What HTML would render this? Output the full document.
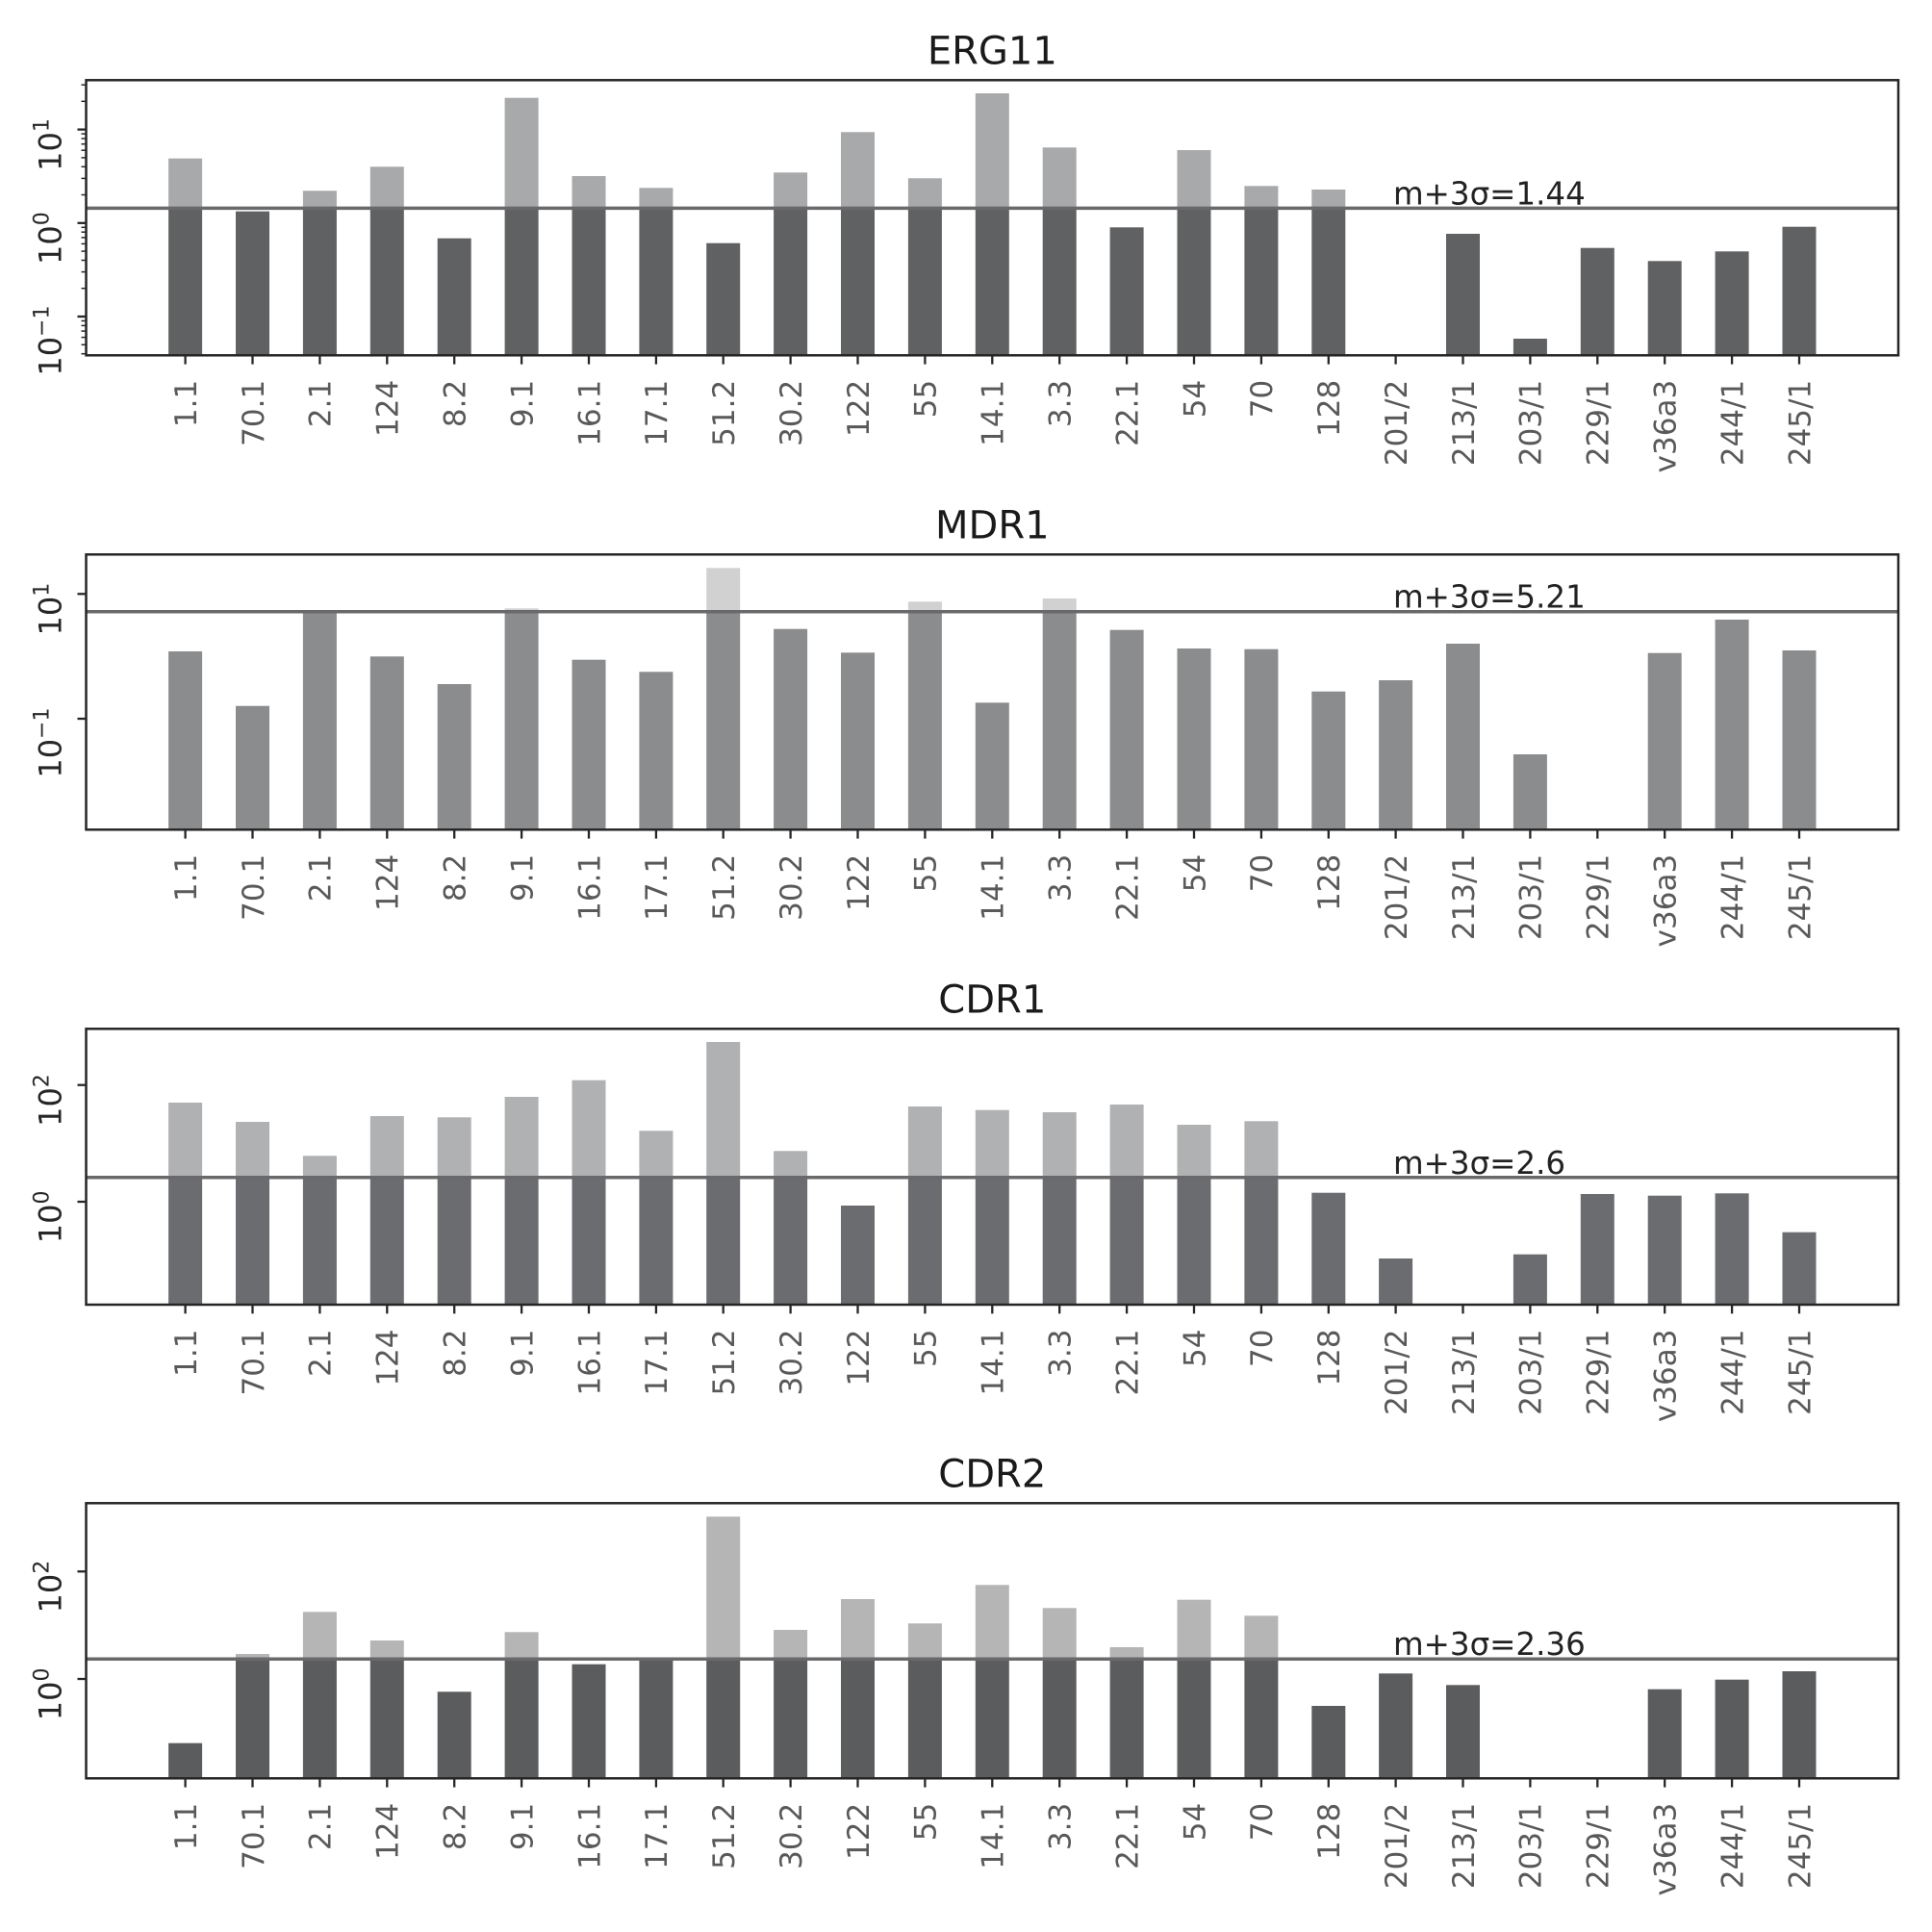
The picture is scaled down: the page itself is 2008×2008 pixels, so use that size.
<!DOCTYPE html>
<html><head><meta charset="utf-8"><style>
html,body{margin:0;padding:0;background:#fff}
svg{display:block}
text{font-family:"DejaVu Sans","Liberation Sans",sans-serif}
.t{font-size:40px;fill:#1a1a1a;text-anchor:middle}
.an{font-size:32.5px;fill:#222}
.xl{font-size:31px;fill:#595959;text-anchor:end}
.yl{font-size:32px;fill:#262626;text-anchor:end}
</style></head><body>
<svg width="2008" height="2008" viewBox="0 0 2008 2008" xmlns="http://www.w3.org/2000/svg">
<rect width="2008" height="2008" fill="#fff"/>

<!-- ================= ERG11 ================= -->
<text class="t" x="1031.3" y="66.7">ERG11</text>
<g fill="#a8a9ab">
<rect x="175.1" y="164.7" width="35" height="51.7"/>
<rect x="314.9" y="198.3" width="35" height="18.1"/>
<rect x="384.8" y="173.3" width="35" height="43.1"/>
<rect x="524.6" y="101.7" width="35" height="114.7"/>
<rect x="594.5" y="183" width="35" height="33.4"/>
<rect x="664.4" y="195.3" width="35" height="21.1"/>
<rect x="804.1" y="179.3" width="35" height="37.1"/>
<rect x="874.0" y="137.3" width="35" height="79.1"/>
<rect x="943.9" y="185.3" width="35" height="31.1"/>
<rect x="1013.8" y="97" width="35" height="119.4"/>
<rect x="1083.7" y="153.3" width="35" height="63.1"/>
<rect x="1223.5" y="156" width="35" height="60.4"/>
<rect x="1293.4" y="193.3" width="35" height="23.1"/>
<rect x="1363.3" y="197" width="35" height="19.4"/>
</g>
<g fill="#606163">
<rect x="175.1" y="216.4" width="35" height="152.9"/>
<rect x="245.0" y="219.7" width="35" height="149.6"/>
<rect x="314.9" y="216.4" width="35" height="152.9"/>
<rect x="384.8" y="216.4" width="35" height="152.9"/>
<rect x="454.7" y="247.7" width="35" height="121.6"/>
<rect x="524.6" y="216.4" width="35" height="152.9"/>
<rect x="594.5" y="216.4" width="35" height="152.9"/>
<rect x="664.4" y="216.4" width="35" height="152.9"/>
<rect x="734.2" y="252.7" width="35" height="116.6"/>
<rect x="804.1" y="216.4" width="35" height="152.9"/>
<rect x="874.0" y="216.4" width="35" height="152.9"/>
<rect x="943.9" y="216.4" width="35" height="152.9"/>
<rect x="1013.8" y="216.4" width="35" height="152.9"/>
<rect x="1083.7" y="216.4" width="35" height="152.9"/>
<rect x="1153.6" y="236.3" width="35" height="133"/>
<rect x="1223.5" y="216.4" width="35" height="152.9"/>
<rect x="1293.4" y="216.4" width="35" height="152.9"/>
<rect x="1363.3" y="216.4" width="35" height="152.9"/>
<rect x="1503.0" y="243" width="35" height="126.3"/>
<rect x="1572.9" y="352" width="35" height="17.3"/>
<rect x="1642.8" y="257.7" width="35" height="111.6"/>
<rect x="1712.7" y="271.3" width="35" height="98"/>
<rect x="1782.6" y="261.3" width="35" height="108"/>
<rect x="1852.5" y="235.7" width="35" height="133.6"/>
</g>
<line x1="89.5" y1="216.4" x2="1973" y2="216.4" stroke="#69696b" stroke-width="3.5"/>
<text class="an" x="1448" y="212.4">m+3σ=1.44</text>
<rect x="89.5" y="83.3" width="1883.5" height="286" fill="none" stroke="#262626" stroke-width="2.5"/>
<g stroke="#262626" stroke-width="2.3">
<line x1="80.5" y1="134.6" x2="89.5" y2="134.6"/><line x1="80.5" y1="231.8" x2="89.5" y2="231.8"/><line x1="80.5" y1="329" x2="89.5" y2="329"/>
</g>
<g stroke="#262626" stroke-width="1.5">
<line x1="84.5" y1="367.7" x2="89.5" y2="367.7"/><line x1="84.5" y1="358.3" x2="89.5" y2="358.3"/><line x1="84.5" y1="350.6" x2="89.5" y2="350.6"/><line x1="84.5" y1="344.1" x2="89.5" y2="344.1"/><line x1="84.5" y1="338.4" x2="89.5" y2="338.4"/><line x1="84.5" y1="333.5" x2="89.5" y2="333.5"/>
<line x1="84.5" y1="299.7" x2="89.5" y2="299.7"/><line x1="84.5" y1="282.6" x2="89.5" y2="282.6"/><line x1="84.5" y1="270.5" x2="89.5" y2="270.5"/><line x1="84.5" y1="261.1" x2="89.5" y2="261.1"/><line x1="84.5" y1="253.4" x2="89.5" y2="253.4"/><line x1="84.5" y1="246.9" x2="89.5" y2="246.9"/><line x1="84.5" y1="241.2" x2="89.5" y2="241.2"/><line x1="84.5" y1="236.3" x2="89.5" y2="236.3"/>
<line x1="84.5" y1="202.5" x2="89.5" y2="202.5"/><line x1="84.5" y1="185.4" x2="89.5" y2="185.4"/><line x1="84.5" y1="173.3" x2="89.5" y2="173.3"/><line x1="84.5" y1="163.9" x2="89.5" y2="163.9"/><line x1="84.5" y1="156.2" x2="89.5" y2="156.2"/><line x1="84.5" y1="149.7" x2="89.5" y2="149.7"/><line x1="84.5" y1="144" x2="89.5" y2="144"/><line x1="84.5" y1="139.1" x2="89.5" y2="139.1"/>
<line x1="84.5" y1="105.3" x2="89.5" y2="105.3"/><line x1="84.5" y1="88.2" x2="89.5" y2="88.2"/>
</g>
<text class="yl" transform="translate(63.5,123.1) rotate(-90)">10<tspan font-size="22" dy="-13">1</tspan></text>
<text class="yl" transform="translate(63.5,220.3) rotate(-90)">10<tspan font-size="22" dy="-13">0</tspan></text>
<text class="yl" transform="translate(63.5,317.5) rotate(-90)">10<tspan font-size="22" dy="-13">−1</tspan></text>
<g stroke="#262626" stroke-width="2.3" transform="translate(0,369.3)">
<line x1="192.6" y1="0" x2="192.6" y2="9.3"/><line x1="262.5" y1="0" x2="262.5" y2="9.3"/><line x1="332.4" y1="0" x2="332.4" y2="9.3"/><line x1="402.3" y1="0" x2="402.3" y2="9.3"/><line x1="472.2" y1="0" x2="472.2" y2="9.3"/><line x1="542.1" y1="0" x2="542.1" y2="9.3"/><line x1="612" y1="0" x2="612" y2="9.3"/><line x1="681.9" y1="0" x2="681.9" y2="9.3"/><line x1="751.7" y1="0" x2="751.7" y2="9.3"/><line x1="821.6" y1="0" x2="821.6" y2="9.3"/><line x1="891.5" y1="0" x2="891.5" y2="9.3"/><line x1="961.4" y1="0" x2="961.4" y2="9.3"/><line x1="1031.3" y1="0" x2="1031.3" y2="9.3"/><line x1="1101.2" y1="0" x2="1101.2" y2="9.3"/><line x1="1171.1" y1="0" x2="1171.1" y2="9.3"/><line x1="1241" y1="0" x2="1241" y2="9.3"/><line x1="1310.9" y1="0" x2="1310.9" y2="9.3"/><line x1="1380.8" y1="0" x2="1380.8" y2="9.3"/><line x1="1450.6" y1="0" x2="1450.6" y2="9.3"/><line x1="1520.5" y1="0" x2="1520.5" y2="9.3"/><line x1="1590.4" y1="0" x2="1590.4" y2="9.3"/><line x1="1660.3" y1="0" x2="1660.3" y2="9.3"/><line x1="1730.2" y1="0" x2="1730.2" y2="9.3"/><line x1="1800.1" y1="0" x2="1800.1" y2="9.3"/><line x1="1870" y1="0" x2="1870" y2="9.3"/>
</g>
<g transform="translate(0,394.8)">
<text class="xl" transform="translate(203.9,0) rotate(-90)">1.1</text>
<text class="xl" transform="translate(273.8,0) rotate(-90)">70.1</text>
<text class="xl" transform="translate(343.7,0) rotate(-90)">2.1</text>
<text class="xl" transform="translate(413.6,0) rotate(-90)">124</text>
<text class="xl" transform="translate(483.5,0) rotate(-90)">8.2</text>
<text class="xl" transform="translate(553.4,0) rotate(-90)">9.1</text>
<text class="xl" transform="translate(623.3,0) rotate(-90)">16.1</text>
<text class="xl" transform="translate(693.2,0) rotate(-90)">17.1</text>
<text class="xl" transform="translate(763,0) rotate(-90)">51.2</text>
<text class="xl" transform="translate(832.9,0) rotate(-90)">30.2</text>
<text class="xl" transform="translate(902.8,0) rotate(-90)">122</text>
<text class="xl" transform="translate(972.7,0) rotate(-90)">55</text>
<text class="xl" transform="translate(1042.6,0) rotate(-90)">14.1</text>
<text class="xl" transform="translate(1112.5,0) rotate(-90)">3.3</text>
<text class="xl" transform="translate(1182.4,0) rotate(-90)">22.1</text>
<text class="xl" transform="translate(1252.3,0) rotate(-90)">54</text>
<text class="xl" transform="translate(1322.2,0) rotate(-90)">70</text>
<text class="xl" transform="translate(1392.1,0) rotate(-90)">128</text>
<text class="xl" transform="translate(1461.9,0) rotate(-90)">201/2</text>
<text class="xl" transform="translate(1531.8,0) rotate(-90)">213/1</text>
<text class="xl" transform="translate(1601.7,0) rotate(-90)">203/1</text>
<text class="xl" transform="translate(1671.6,0) rotate(-90)">229/1</text>
<text class="xl" transform="translate(1741.5,0) rotate(-90)">v36a3</text>
<text class="xl" transform="translate(1811.4,0) rotate(-90)">244/1</text>
<text class="xl" transform="translate(1881.3,0) rotate(-90)">245/1</text>
</g>

<!-- ================= MDR1 ================= -->
<text class="t" x="1031.3" y="559.7">MDR1</text>
<g fill="#d1d1d2">
<rect x="524.6" y="632.3" width="35" height="3.4"/>
<rect x="734.2" y="590.3" width="35" height="45.4"/>
<rect x="943.9" y="625.3" width="35" height="10.4"/>
<rect x="1083.7" y="622" width="35" height="13.7"/>
</g>
<g fill="#8b8c8e">
<rect x="175.1" y="677" width="35" height="185.3"/>
<rect x="245.0" y="733.7" width="35" height="128.6"/>
<rect x="314.9" y="635.5" width="35" height="226.8"/>
<rect x="384.8" y="682.3" width="35" height="180"/>
<rect x="454.7" y="711" width="35" height="151.3"/>
<rect x="524.6" y="635.7" width="35" height="226.6"/>
<rect x="594.5" y="685.7" width="35" height="176.6"/>
<rect x="664.4" y="698.3" width="35" height="164"/>
<rect x="734.2" y="635.7" width="35" height="226.6"/>
<rect x="804.1" y="653.7" width="35" height="208.6"/>
<rect x="874.0" y="678.3" width="35" height="184"/>
<rect x="943.9" y="635.7" width="35" height="226.6"/>
<rect x="1013.8" y="730.3" width="35" height="132"/>
<rect x="1083.7" y="635.7" width="35" height="226.6"/>
<rect x="1153.6" y="654.7" width="35" height="207.6"/>
<rect x="1223.5" y="674" width="35" height="188.3"/>
<rect x="1293.4" y="674.7" width="35" height="187.6"/>
<rect x="1363.3" y="718.7" width="35" height="143.6"/>
<rect x="1433.1" y="707" width="35" height="155.3"/>
<rect x="1503.0" y="669" width="35" height="193.3"/>
<rect x="1572.9" y="784" width="35" height="78.3"/>
<rect x="1712.7" y="678.7" width="35" height="183.6"/>
<rect x="1782.6" y="644" width="35" height="218.3"/>
<rect x="1852.5" y="676" width="35" height="186.3"/>
</g>
<line x1="89.5" y1="635.7" x2="1973" y2="635.7" stroke="#69696b" stroke-width="3.5"/>
<text class="an" x="1448" y="631.7">m+3σ=5.21</text>
<rect x="89.5" y="576.3" width="1883.5" height="286" fill="none" stroke="#262626" stroke-width="2.5"/>
<g stroke="#262626" stroke-width="2.3">
<line x1="80.5" y1="617.3" x2="89.5" y2="617.3"/><line x1="80.5" y1="747" x2="89.5" y2="747"/>
</g>
<text class="yl" transform="translate(63.5,605.8) rotate(-90)">10<tspan font-size="22" dy="-13">1</tspan></text>
<text class="yl" transform="translate(63.5,735.5) rotate(-90)">10<tspan font-size="22" dy="-13">−1</tspan></text>
<g stroke="#262626" stroke-width="2.3" transform="translate(0,862.3)">
<line x1="192.6" y1="0" x2="192.6" y2="9.3"/><line x1="262.5" y1="0" x2="262.5" y2="9.3"/><line x1="332.4" y1="0" x2="332.4" y2="9.3"/><line x1="402.3" y1="0" x2="402.3" y2="9.3"/><line x1="472.2" y1="0" x2="472.2" y2="9.3"/><line x1="542.1" y1="0" x2="542.1" y2="9.3"/><line x1="612" y1="0" x2="612" y2="9.3"/><line x1="681.9" y1="0" x2="681.9" y2="9.3"/><line x1="751.7" y1="0" x2="751.7" y2="9.3"/><line x1="821.6" y1="0" x2="821.6" y2="9.3"/><line x1="891.5" y1="0" x2="891.5" y2="9.3"/><line x1="961.4" y1="0" x2="961.4" y2="9.3"/><line x1="1031.3" y1="0" x2="1031.3" y2="9.3"/><line x1="1101.2" y1="0" x2="1101.2" y2="9.3"/><line x1="1171.1" y1="0" x2="1171.1" y2="9.3"/><line x1="1241" y1="0" x2="1241" y2="9.3"/><line x1="1310.9" y1="0" x2="1310.9" y2="9.3"/><line x1="1380.8" y1="0" x2="1380.8" y2="9.3"/><line x1="1450.6" y1="0" x2="1450.6" y2="9.3"/><line x1="1520.5" y1="0" x2="1520.5" y2="9.3"/><line x1="1590.4" y1="0" x2="1590.4" y2="9.3"/><line x1="1660.3" y1="0" x2="1660.3" y2="9.3"/><line x1="1730.2" y1="0" x2="1730.2" y2="9.3"/><line x1="1800.1" y1="0" x2="1800.1" y2="9.3"/><line x1="1870" y1="0" x2="1870" y2="9.3"/>
</g>
<g transform="translate(0,887.8)">
<text class="xl" transform="translate(203.9,0) rotate(-90)">1.1</text>
<text class="xl" transform="translate(273.8,0) rotate(-90)">70.1</text>
<text class="xl" transform="translate(343.7,0) rotate(-90)">2.1</text>
<text class="xl" transform="translate(413.6,0) rotate(-90)">124</text>
<text class="xl" transform="translate(483.5,0) rotate(-90)">8.2</text>
<text class="xl" transform="translate(553.4,0) rotate(-90)">9.1</text>
<text class="xl" transform="translate(623.3,0) rotate(-90)">16.1</text>
<text class="xl" transform="translate(693.2,0) rotate(-90)">17.1</text>
<text class="xl" transform="translate(763,0) rotate(-90)">51.2</text>
<text class="xl" transform="translate(832.9,0) rotate(-90)">30.2</text>
<text class="xl" transform="translate(902.8,0) rotate(-90)">122</text>
<text class="xl" transform="translate(972.7,0) rotate(-90)">55</text>
<text class="xl" transform="translate(1042.6,0) rotate(-90)">14.1</text>
<text class="xl" transform="translate(1112.5,0) rotate(-90)">3.3</text>
<text class="xl" transform="translate(1182.4,0) rotate(-90)">22.1</text>
<text class="xl" transform="translate(1252.3,0) rotate(-90)">54</text>
<text class="xl" transform="translate(1322.2,0) rotate(-90)">70</text>
<text class="xl" transform="translate(1392.1,0) rotate(-90)">128</text>
<text class="xl" transform="translate(1461.9,0) rotate(-90)">201/2</text>
<text class="xl" transform="translate(1531.8,0) rotate(-90)">213/1</text>
<text class="xl" transform="translate(1601.7,0) rotate(-90)">203/1</text>
<text class="xl" transform="translate(1671.6,0) rotate(-90)">229/1</text>
<text class="xl" transform="translate(1741.5,0) rotate(-90)">v36a3</text>
<text class="xl" transform="translate(1811.4,0) rotate(-90)">244/1</text>
<text class="xl" transform="translate(1881.3,0) rotate(-90)">245/1</text>
</g>

<!-- ================= CDR1 ================= -->
<text class="t" x="1031.3" y="1052.7">CDR1</text>
<g fill="#b0b1b3">
<rect x="175.1" y="1146" width="35" height="77.8"/>
<rect x="245.0" y="1166" width="35" height="57.8"/>
<rect x="314.9" y="1201.3" width="35" height="22.5"/>
<rect x="384.8" y="1160" width="35" height="63.8"/>
<rect x="454.7" y="1161.3" width="35" height="62.5"/>
<rect x="524.6" y="1140" width="35" height="83.8"/>
<rect x="594.5" y="1122.7" width="35" height="101.1"/>
<rect x="664.4" y="1175.3" width="35" height="48.5"/>
<rect x="734.2" y="1083" width="35" height="140.8"/>
<rect x="804.1" y="1196.3" width="35" height="27.5"/>
<rect x="943.9" y="1150" width="35" height="73.8"/>
<rect x="1013.8" y="1153.7" width="35" height="70.1"/>
<rect x="1083.7" y="1156" width="35" height="67.8"/>
<rect x="1153.6" y="1148" width="35" height="75.8"/>
<rect x="1223.5" y="1169" width="35" height="54.8"/>
<rect x="1293.4" y="1165.3" width="35" height="58.5"/>
</g>
<g fill="#6b6c6f">
<rect x="175.1" y="1223.8" width="35" height="132.2"/>
<rect x="245.0" y="1223.8" width="35" height="132.2"/>
<rect x="314.9" y="1223.8" width="35" height="132.2"/>
<rect x="384.8" y="1223.8" width="35" height="132.2"/>
<rect x="454.7" y="1223.8" width="35" height="132.2"/>
<rect x="524.6" y="1223.8" width="35" height="132.2"/>
<rect x="594.5" y="1223.8" width="35" height="132.2"/>
<rect x="664.4" y="1223.8" width="35" height="132.2"/>
<rect x="734.2" y="1223.8" width="35" height="132.2"/>
<rect x="804.1" y="1223.8" width="35" height="132.2"/>
<rect x="874.0" y="1253" width="35" height="103"/>
<rect x="943.9" y="1223.8" width="35" height="132.2"/>
<rect x="1013.8" y="1223.8" width="35" height="132.2"/>
<rect x="1083.7" y="1223.8" width="35" height="132.2"/>
<rect x="1153.6" y="1223.8" width="35" height="132.2"/>
<rect x="1223.5" y="1223.8" width="35" height="132.2"/>
<rect x="1293.4" y="1223.8" width="35" height="132.2"/>
<rect x="1363.3" y="1239.7" width="35" height="116.3"/>
<rect x="1433.1" y="1308" width="35" height="48"/>
<rect x="1572.9" y="1303.7" width="35" height="52.3"/>
<rect x="1642.8" y="1241" width="35" height="115"/>
<rect x="1712.7" y="1242.7" width="35" height="113.3"/>
<rect x="1782.6" y="1240.3" width="35" height="115.7"/>
<rect x="1852.5" y="1280.7" width="35" height="75.3"/>
</g>
<line x1="89.5" y1="1223.8" x2="1973" y2="1223.8" stroke="#69696b" stroke-width="3.5"/>
<text class="an" x="1448" y="1219.8">m+3σ=2.6</text>
<rect x="89.5" y="1069.3" width="1883.5" height="286.7" fill="none" stroke="#262626" stroke-width="2.5"/>
<g stroke="#262626" stroke-width="2.3">
<line x1="80.5" y1="1127.7" x2="89.5" y2="1127.7"/><line x1="80.5" y1="1249" x2="89.5" y2="1249"/>
</g>
<text class="yl" transform="translate(63.5,1116.2) rotate(-90)">10<tspan font-size="22" dy="-13">2</tspan></text>
<text class="yl" transform="translate(63.5,1237.5) rotate(-90)">10<tspan font-size="22" dy="-13">0</tspan></text>
<g stroke="#262626" stroke-width="2.3" transform="translate(0,1356)">
<line x1="192.6" y1="0" x2="192.6" y2="9.3"/><line x1="262.5" y1="0" x2="262.5" y2="9.3"/><line x1="332.4" y1="0" x2="332.4" y2="9.3"/><line x1="402.3" y1="0" x2="402.3" y2="9.3"/><line x1="472.2" y1="0" x2="472.2" y2="9.3"/><line x1="542.1" y1="0" x2="542.1" y2="9.3"/><line x1="612" y1="0" x2="612" y2="9.3"/><line x1="681.9" y1="0" x2="681.9" y2="9.3"/><line x1="751.7" y1="0" x2="751.7" y2="9.3"/><line x1="821.6" y1="0" x2="821.6" y2="9.3"/><line x1="891.5" y1="0" x2="891.5" y2="9.3"/><line x1="961.4" y1="0" x2="961.4" y2="9.3"/><line x1="1031.3" y1="0" x2="1031.3" y2="9.3"/><line x1="1101.2" y1="0" x2="1101.2" y2="9.3"/><line x1="1171.1" y1="0" x2="1171.1" y2="9.3"/><line x1="1241" y1="0" x2="1241" y2="9.3"/><line x1="1310.9" y1="0" x2="1310.9" y2="9.3"/><line x1="1380.8" y1="0" x2="1380.8" y2="9.3"/><line x1="1450.6" y1="0" x2="1450.6" y2="9.3"/><line x1="1520.5" y1="0" x2="1520.5" y2="9.3"/><line x1="1590.4" y1="0" x2="1590.4" y2="9.3"/><line x1="1660.3" y1="0" x2="1660.3" y2="9.3"/><line x1="1730.2" y1="0" x2="1730.2" y2="9.3"/><line x1="1800.1" y1="0" x2="1800.1" y2="9.3"/><line x1="1870" y1="0" x2="1870" y2="9.3"/>
</g>
<g transform="translate(0,1381.5)">
<text class="xl" transform="translate(203.9,0) rotate(-90)">1.1</text>
<text class="xl" transform="translate(273.8,0) rotate(-90)">70.1</text>
<text class="xl" transform="translate(343.7,0) rotate(-90)">2.1</text>
<text class="xl" transform="translate(413.6,0) rotate(-90)">124</text>
<text class="xl" transform="translate(483.5,0) rotate(-90)">8.2</text>
<text class="xl" transform="translate(553.4,0) rotate(-90)">9.1</text>
<text class="xl" transform="translate(623.3,0) rotate(-90)">16.1</text>
<text class="xl" transform="translate(693.2,0) rotate(-90)">17.1</text>
<text class="xl" transform="translate(763,0) rotate(-90)">51.2</text>
<text class="xl" transform="translate(832.9,0) rotate(-90)">30.2</text>
<text class="xl" transform="translate(902.8,0) rotate(-90)">122</text>
<text class="xl" transform="translate(972.7,0) rotate(-90)">55</text>
<text class="xl" transform="translate(1042.6,0) rotate(-90)">14.1</text>
<text class="xl" transform="translate(1112.5,0) rotate(-90)">3.3</text>
<text class="xl" transform="translate(1182.4,0) rotate(-90)">22.1</text>
<text class="xl" transform="translate(1252.3,0) rotate(-90)">54</text>
<text class="xl" transform="translate(1322.2,0) rotate(-90)">70</text>
<text class="xl" transform="translate(1392.1,0) rotate(-90)">128</text>
<text class="xl" transform="translate(1461.9,0) rotate(-90)">201/2</text>
<text class="xl" transform="translate(1531.8,0) rotate(-90)">213/1</text>
<text class="xl" transform="translate(1601.7,0) rotate(-90)">203/1</text>
<text class="xl" transform="translate(1671.6,0) rotate(-90)">229/1</text>
<text class="xl" transform="translate(1741.5,0) rotate(-90)">v36a3</text>
<text class="xl" transform="translate(1811.4,0) rotate(-90)">244/1</text>
<text class="xl" transform="translate(1881.3,0) rotate(-90)">245/1</text>
</g>

<!-- ================= CDR2 ================= -->
<text class="t" x="1031.3" y="1545.7">CDR2</text>
<g fill="#b5b5b6">
<rect x="245.0" y="1719" width="35" height="5.2"/>
<rect x="314.9" y="1675.3" width="35" height="48.9"/>
<rect x="384.8" y="1705" width="35" height="19.2"/>
<rect x="524.6" y="1696.3" width="35" height="27.9"/>
<rect x="734.2" y="1576.3" width="35" height="147.9"/>
<rect x="804.1" y="1694" width="35" height="30.2"/>
<rect x="874.0" y="1662" width="35" height="62.2"/>
<rect x="943.9" y="1687.3" width="35" height="36.9"/>
<rect x="1013.8" y="1647.3" width="35" height="76.9"/>
<rect x="1083.7" y="1671.3" width="35" height="52.9"/>
<rect x="1153.6" y="1712" width="35" height="12.2"/>
<rect x="1223.5" y="1662.7" width="35" height="61.5"/>
<rect x="1293.4" y="1679.3" width="35" height="44.9"/>
</g>
<g fill="#5b5c5e">
<rect x="175.1" y="1811.7" width="35" height="36.6"/>
<rect x="245.0" y="1724.2" width="35" height="124.1"/>
<rect x="314.9" y="1724.2" width="35" height="124.1"/>
<rect x="384.8" y="1724.2" width="35" height="124.1"/>
<rect x="454.7" y="1758.3" width="35" height="90"/>
<rect x="524.6" y="1724.2" width="35" height="124.1"/>
<rect x="594.5" y="1729.7" width="35" height="118.6"/>
<rect x="664.4" y="1724.2" width="35" height="124.1"/>
<rect x="734.2" y="1724.2" width="35" height="124.1"/>
<rect x="804.1" y="1724.2" width="35" height="124.1"/>
<rect x="874.0" y="1724.2" width="35" height="124.1"/>
<rect x="943.9" y="1724.2" width="35" height="124.1"/>
<rect x="1013.8" y="1724.2" width="35" height="124.1"/>
<rect x="1083.7" y="1724.2" width="35" height="124.1"/>
<rect x="1153.6" y="1724.2" width="35" height="124.1"/>
<rect x="1223.5" y="1724.2" width="35" height="124.1"/>
<rect x="1293.4" y="1724.2" width="35" height="124.1"/>
<rect x="1363.3" y="1773" width="35" height="75.3"/>
<rect x="1433.1" y="1739.3" width="35" height="109"/>
<rect x="1503.0" y="1751.3" width="35" height="97"/>
<rect x="1712.7" y="1755.7" width="35" height="92.6"/>
<rect x="1782.6" y="1745.7" width="35" height="102.6"/>
<rect x="1852.5" y="1737" width="35" height="111.3"/>
</g>
<line x1="89.5" y1="1724.2" x2="1973" y2="1724.2" stroke="#69696b" stroke-width="3.5"/>
<text class="an" x="1448" y="1720.2">m+3σ=2.36</text>
<rect x="89.5" y="1562.3" width="1883.5" height="286" fill="none" stroke="#262626" stroke-width="2.5"/>
<g stroke="#262626" stroke-width="2.3">
<line x1="80.5" y1="1633.3" x2="89.5" y2="1633.3"/><line x1="80.5" y1="1745" x2="89.5" y2="1745"/>
</g>
<text class="yl" transform="translate(63.5,1621.8) rotate(-90)">10<tspan font-size="22" dy="-13">2</tspan></text>
<text class="yl" transform="translate(63.5,1733.5) rotate(-90)">10<tspan font-size="22" dy="-13">0</tspan></text>
<g stroke="#262626" stroke-width="2.3" transform="translate(0,1848.3)">
<line x1="192.6" y1="0" x2="192.6" y2="9.3"/><line x1="262.5" y1="0" x2="262.5" y2="9.3"/><line x1="332.4" y1="0" x2="332.4" y2="9.3"/><line x1="402.3" y1="0" x2="402.3" y2="9.3"/><line x1="472.2" y1="0" x2="472.2" y2="9.3"/><line x1="542.1" y1="0" x2="542.1" y2="9.3"/><line x1="612" y1="0" x2="612" y2="9.3"/><line x1="681.9" y1="0" x2="681.9" y2="9.3"/><line x1="751.7" y1="0" x2="751.7" y2="9.3"/><line x1="821.6" y1="0" x2="821.6" y2="9.3"/><line x1="891.5" y1="0" x2="891.5" y2="9.3"/><line x1="961.4" y1="0" x2="961.4" y2="9.3"/><line x1="1031.3" y1="0" x2="1031.3" y2="9.3"/><line x1="1101.2" y1="0" x2="1101.2" y2="9.3"/><line x1="1171.1" y1="0" x2="1171.1" y2="9.3"/><line x1="1241" y1="0" x2="1241" y2="9.3"/><line x1="1310.9" y1="0" x2="1310.9" y2="9.3"/><line x1="1380.8" y1="0" x2="1380.8" y2="9.3"/><line x1="1450.6" y1="0" x2="1450.6" y2="9.3"/><line x1="1520.5" y1="0" x2="1520.5" y2="9.3"/><line x1="1590.4" y1="0" x2="1590.4" y2="9.3"/><line x1="1660.3" y1="0" x2="1660.3" y2="9.3"/><line x1="1730.2" y1="0" x2="1730.2" y2="9.3"/><line x1="1800.1" y1="0" x2="1800.1" y2="9.3"/><line x1="1870" y1="0" x2="1870" y2="9.3"/>
</g>
<g transform="translate(0,1873.8)">
<text class="xl" transform="translate(203.9,0) rotate(-90)">1.1</text>
<text class="xl" transform="translate(273.8,0) rotate(-90)">70.1</text>
<text class="xl" transform="translate(343.7,0) rotate(-90)">2.1</text>
<text class="xl" transform="translate(413.6,0) rotate(-90)">124</text>
<text class="xl" transform="translate(483.5,0) rotate(-90)">8.2</text>
<text class="xl" transform="translate(553.4,0) rotate(-90)">9.1</text>
<text class="xl" transform="translate(623.3,0) rotate(-90)">16.1</text>
<text class="xl" transform="translate(693.2,0) rotate(-90)">17.1</text>
<text class="xl" transform="translate(763,0) rotate(-90)">51.2</text>
<text class="xl" transform="translate(832.9,0) rotate(-90)">30.2</text>
<text class="xl" transform="translate(902.8,0) rotate(-90)">122</text>
<text class="xl" transform="translate(972.7,0) rotate(-90)">55</text>
<text class="xl" transform="translate(1042.6,0) rotate(-90)">14.1</text>
<text class="xl" transform="translate(1112.5,0) rotate(-90)">3.3</text>
<text class="xl" transform="translate(1182.4,0) rotate(-90)">22.1</text>
<text class="xl" transform="translate(1252.3,0) rotate(-90)">54</text>
<text class="xl" transform="translate(1322.2,0) rotate(-90)">70</text>
<text class="xl" transform="translate(1392.1,0) rotate(-90)">128</text>
<text class="xl" transform="translate(1461.9,0) rotate(-90)">201/2</text>
<text class="xl" transform="translate(1531.8,0) rotate(-90)">213/1</text>
<text class="xl" transform="translate(1601.7,0) rotate(-90)">203/1</text>
<text class="xl" transform="translate(1671.6,0) rotate(-90)">229/1</text>
<text class="xl" transform="translate(1741.5,0) rotate(-90)">v36a3</text>
<text class="xl" transform="translate(1811.4,0) rotate(-90)">244/1</text>
<text class="xl" transform="translate(1881.3,0) rotate(-90)">245/1</text>
</g>
</svg>
</body></html>
